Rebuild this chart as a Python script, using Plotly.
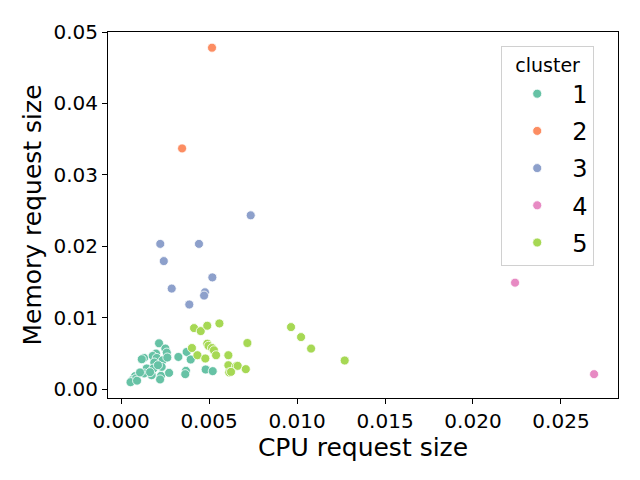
import plotly.graph_objects as go

# cluster -> (cpu, memory) values
clusters = ["1", "2", "3", "4", "5"]

cpu_1 = [0.00216, 0.00252, 0.00260, 0.00199, 0.00131, 0.00118, 0.00180, 0.00203,
         0.00237, 0.00189, 0.00146, 0.00184, 0.00231, 0.00227, 0.00174, 0.00131,
         0.00273, 0.00080, 0.00064, 0.00085, 0.00326, 0.00373, 0.00396, 0.00369,
         0.00365, 0.00481, 0.00521, 0.00263, 0.00210, 0.00222, 0.00054, 0.00091,
         0.00165, 0.00108]
mem_1 = [0.00641, 0.00567, 0.00511, 0.00497, 0.00436, 0.00418, 0.00464, 0.00436,
         0.00404, 0.00372, 0.00288, 0.00288, 0.00311, 0.00185, 0.00195, 0.00219,
         0.00227, 0.00181, 0.00125, 0.00149, 0.00450, 0.00520, 0.00414, 0.00255,
         0.00209, 0.00274, 0.00251, 0.00442, 0.00334, 0.00135, 0.00097, 0.00118,
         0.00237, 0.00233]

cpu_2 = [0.00517, 0.00347]
mem_2 = [0.0478, 0.0337]

cpu_3 = [0.00737, 0.00223, 0.00443, 0.00243, 0.00519, 0.00288, 0.00477, 0.00472, 0.00388]
mem_3 = [0.02433, 0.02033, 0.02033, 0.01792, 0.01564, 0.01407, 0.01355, 0.01309, 0.01184]

cpu_4 = [0.02239, 0.02688]
mem_4 = [0.01490, 0.00209]

cpu_5 = [0.00415, 0.00453, 0.00490, 0.00559, 0.00966, 0.01023, 0.01080, 0.01271,
         0.00718, 0.00490, 0.00497, 0.00403, 0.00517, 0.00528, 0.00434, 0.00540,
         0.00479, 0.00610, 0.00610, 0.00653, 0.00663, 0.00709, 0.00615, 0.00625]
mem_5 = [0.00854, 0.00812, 0.00887, 0.00919, 0.00868, 0.00728, 0.00567, 0.00400,
         0.00645, 0.00636, 0.00606, 0.00575, 0.00575, 0.00543, 0.00474, 0.00474,
         0.00428, 0.00474, 0.00334, 0.00320, 0.00325, 0.00279, 0.00233, 0.00241]

xs = [cpu_1, cpu_2, cpu_3, cpu_4, cpu_5]
ys = [mem_1, mem_2, mem_3, mem_4, mem_5]
colors = ["#66c2a5", "#fc8d62", "#8da0cb", "#e78ac3", "#a6d854"]

fig = go.Figure()
for name, x, y, c in zip(clusters, xs, ys, colors):
    fig.add_trace(go.Scatter(
        x=x, y=y, mode="markers", name=name, legendgroup=name,
        marker=dict(color=c, size=9, line=dict(color="white", width=0.8)),
    ))

axis_common = dict(
    showline=True, linecolor="black", linewidth=1, mirror=True,
    ticks="outside", ticklen=5, tickcolor="black",
    showgrid=False, zeroline=False,
    tickfont=dict(size=20, color="black"),
)

# page body adds an 8px margin, so the figure is a bit smaller than the window
fig.update_layout(
    width=632, height=472,
    margin=dict(l=100, r=22, t=22, b=82),
    paper_bgcolor="white", plot_bgcolor="white",
    font=dict(family="DejaVu Sans", color="black"),
    xaxis=dict(range=[-0.00074, 0.02824], dtick=0.005, tick0=0, tickformat=".3f",
               title=dict(text="CPU request size", font=dict(size=25), standoff=2),
               **axis_common),
    yaxis=dict(range=[-0.00125, 0.05], dtick=0.01, tick0=0, tickformat=".2f",
               title=dict(text="Memory request size", font=dict(size=25), standoff=4),
               **axis_common),
    legend=dict(
        x=0.771, y=0.962, xanchor="left", yanchor="top",
        title=dict(text="cluster", font=dict(size=19), side="top center"),
        font=dict(size=24),
        bordercolor="#d0d0d0", borderwidth=1, bgcolor="rgba(255,255,255,0.8)",
        itemwidth=60, tracegroupgap=3,
    ),
)

fig.write_html("out.html")
